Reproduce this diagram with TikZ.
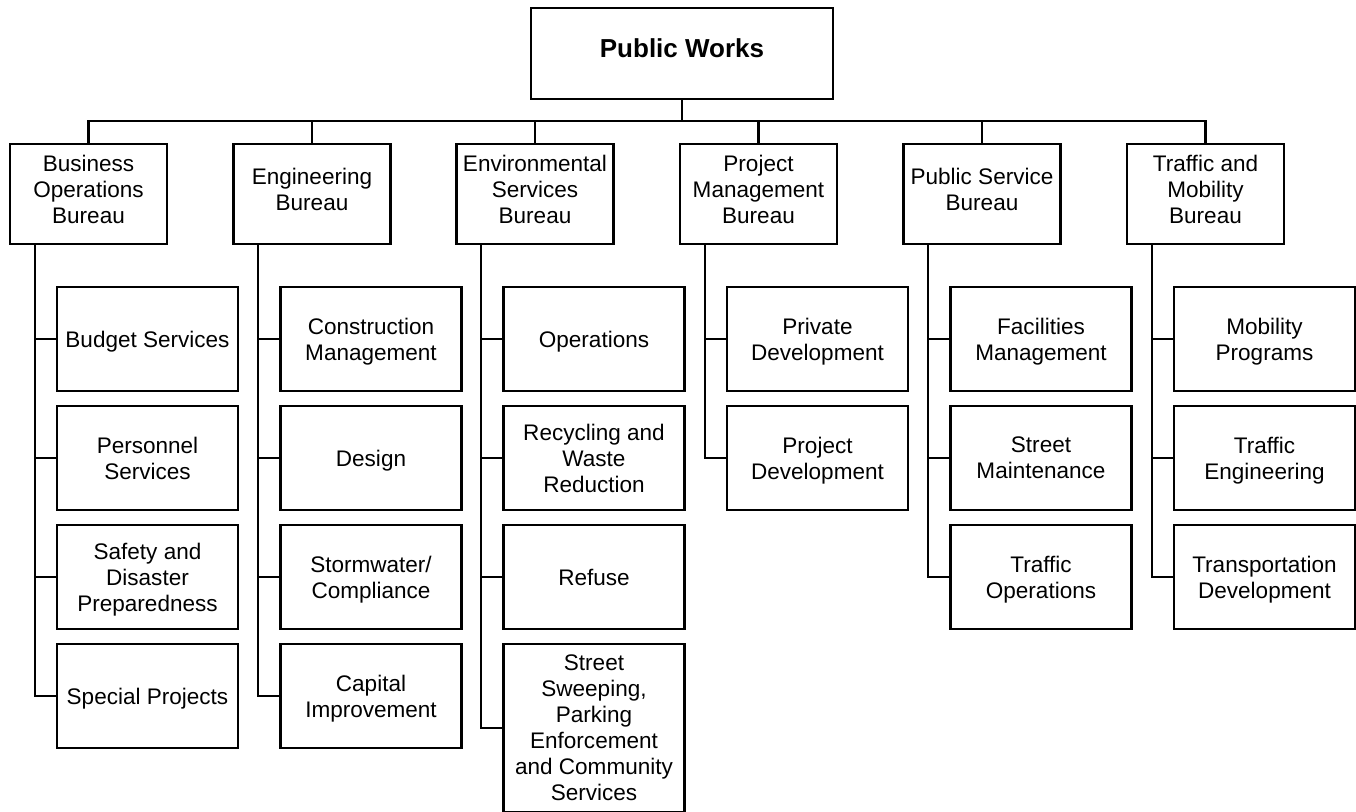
\documentclass[tikz,border=0pt]{standalone}
\usepackage{fontspec}
\setmainfont{Liberation Sans}
\usetikzlibrary{calc}
\begin{document}
\begin{tikzpicture}[x=0.75pt,y=-0.75pt,
  box/.style={draw, line width=1.8pt, rectangle, inner sep=0pt, align=center,
    font=\fontsize{16.9pt}{19.5pt}\selectfont},
  head/.style={box, minimum width=226.5pt, minimum height=68.25pt,
    font=\fontsize{19.5pt}{23pt}\selectfont\bfseries, text depth=8pt},
  bureau/.style={box, minimum width=117.75pt, minimum height=75pt, text depth=6.5pt},
  unit/.style={box, minimum width=135.75pt, minimum height=78pt, text depth=0pt},
  link/.style={line width=1.6pt}]
\useasboundingbox (0,0) rectangle (1356,812);

% top of the hierarchy
\node[head] (pw) at (682,53.5) {Public Works};
\coordinate (bus) at (682,121);

% bureaus
\node[bureau] (b1) at (88.5,194)  {Business\\Operations\\Bureau};
\node[bureau] (b2) at (312,194)   {Engineering\\Bureau};
\node[bureau] (b3) at (535,194)   {Environmental\\Services\\Bureau};
\node[bureau] (b4) at (758.5,194) {Project\\Management\\Bureau};
\node[bureau] (b5) at (982,194)   {Public Service\\Bureau};
\node[bureau] (b6) at (1205.5,194){Traffic and\\Mobility\\Bureau};

% divisions
\node[unit] (c11) at (147.5,339) {Budget Services};
\node[unit] (c12) at (147.5,458) {Personnel\\Services};
\node[unit] (c13) at (147.5,577) {Safety and\\Disaster\\Preparedness};
\node[unit] (c14) at (147.5,696) {Special Projects};

\node[unit] (c21) at (371,339) {Construction\\Management};
\node[unit] (c22) at (371,458) {Design};
\node[unit] (c23) at (371,577) {Stormwater/\\Compliance};
\node[unit] (c24) at (371,696) {Capital\\Improvement};

\node[unit] (c31) at (594,339) {Operations};
\node[unit] (c32) at (594,458) {Recycling and\\Waste\\Reduction};
\node[unit] (c33) at (594,577) {Refuse};
\node[unit, minimum height=126pt] (c34) at (594,728) {Street\\Sweeping,\\Parking\\Enforcement\\and Community\\Services};

\node[unit] (c41) at (817.5,339) {Private\\Development};
\node[unit] (c42) at (817.5,458) {Project\\Development};

\node[unit] (c51) at (1041,339) {Facilities\\Management};
\node[unit] (c52) at (1041,458) {Street\\Maintenance};
\node[unit] (c53) at (1041,577) {Traffic\\Operations};

\node[unit] (c61) at (1264.5,339) {Mobility\\Programs};
\node[unit] (c62) at (1264.5,458) {Traffic\\Engineering};
\node[unit] (c63) at (1264.5,577) {Transportation\\Development};

% bus from the head to the bureaus
\draw[link] (pw.south) -- (pw.south |- bus);
\draw[link] (b1.north) -- (b1.north |- bus) -- (b6.north |- bus) -- (b6.north);
\foreach \b in {b2,b3,b4,b5}
  \draw[link] (\b.north) -- (\b.north |- bus);

% trunks down the left side of each bureau
\foreach \b/\last in {1/4,2/4,3/4,4/2,5/3,6/3} {
  \coordinate (t\b) at ($(b\b.south west)+(26,0)$);
  \draw[link] (t\b) |- (c\b\last.west);
}
\foreach \c/\b in {c11/1,c12/1,c13/1,c21/2,c22/2,c23/2,c31/3,c32/3,c33/3,c41/4,c51/5,c52/5,c61/6,c62/6}
  \draw[link] (\c.west) -- (\c.west -| t\b);
\end{tikzpicture}
\end{document}
